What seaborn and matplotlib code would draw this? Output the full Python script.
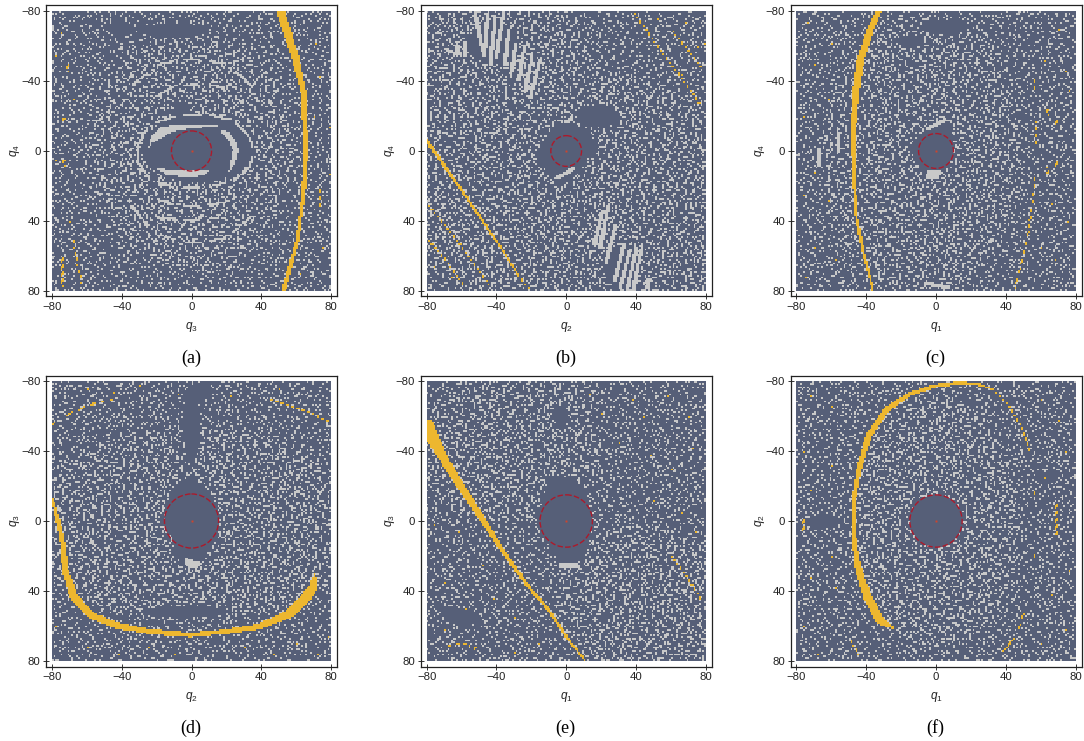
import numpy as np
import matplotlib
matplotlib.use("Agg")
import matplotlib.pyplot as plt
import seaborn as sns
from matplotlib.colors import ListedColormap
from matplotlib.patches import Circle, Rectangle
from matplotlib.path import Path

# Values are estimates, in (q_x, q_y).
# The fine speckle can't be read cell by cell, so one hand typed patch stands in for it:
# '1' are lone cells, '2' the short dashes that only show in the denser zones.
SPECKLE = [
    "....1.......222.....1.........2.....1...",
    "1.........2..........22..1.........2....",
    "...22.....2....1............1.....22...1",
    ".......1..2.........2..222........2.....",
    ".1...............1..2.......1..........2",
    "......222...1........2...........1.....2",
    "..2...........2...........22..1.........",
    "..2..1.........2...1..............222...",
    "........1......22........2..1..........1",
    "1..............2.....1...2...........2..",
    "....22..2..............2.....1....1..2..",
    "........2...1.....222........2........1.",
    "..1.....2...............1....2..1.......",
    "...............2...1.............22.....",
    ".....1.22......2........2.1.........2...",
    "1..............2..2.....2...........2...",
    "......2...1.......2.........1....1..2...",
    "..22..2...........2..1...222............",
    "......2..1..1...............2..........1",
    ".1..............222......1..2...1.......",
    "........2..................1.2......22..",
    "...1....2...1.......1...........2......1",
    "........22.....2.........22.....2..1....",
    "..1............2....2...........2.......",
    "......1...1....2....2.....1.............",
    "..2.................2..1.......222...1..",
    "..2...22..2..1..........2..............1",
    "..2.......2........1....2...1......2....",
    ".....1....2...22........2.........12....",
    "1..............2...........1.......2....",
    "......222......2....1.2.........1.......",
    "..1.............1....2......2.........2.",
    ".........1...2.......2..22..2...1.......",
    ".....2.......2...1.........2............",
    "1....2..1........22...........222....1..",
    ".....2.........1......1..............1..",
    "...........22.......1....2.1....2.......",
    ".1....1.........1........2......2...22..",
    ".........2.............1.2..1...2.......",
    "..1.....2...1...22..............1....1..",
]
# orientation of each repeat of the patch: 0 as typed, 1 flip lr, 2 flip ud, 3 both, 4 transposed
PATCH_ORDER = [[0, 3, 1, 4], [2, 4, 0, 3], [4, 1, 3, 2], [1, 0, 4, 2]]
LAYER_ORDER = [[4, 2, 3, 1], [1, 3, 4, 0], [0, 4, 2, 1], [3, 1, 0, 4]]

# orange bands: (x, y, half width)
BAND_A = [(51, -80, 2.4), (59.5, -54, 2.2), (64.3, -33, 1.5), (65.6, 0, 1.3), (64.3, 24, 1.1), (60.8, 51, 1.0), (52.8, 80, 1.3)]
BAND_B = [(-80, -6, 1.0), (-52, 34, 0.7), (-37, 56, 0.6), (-27, 72, 0.5)]
BAND_C = [(-32.8, -80, 1.5), (-37.5, -70, 2.0), (-43.3, -52, 2.2), (-46, -33, 2.0), (-47.5, -10, 1.5), (-47, 15, 1.0), (-45.6, 38, 0.8), (-41.4, 59, 0.8), (-36, 80, 0.6)]
BAND_D = [(-79.6, -12, 0.9), (-74.3, 9, 1.4), (-72.4, 28, 1.8), (-67.6, 43, 2.4), (-58, 54, 2.0), (-42.8, 60, 1.8), (-23.7, 63.4, 1.5), (-0.8, 65.3, 1.3), (20, 63.4, 1.3), (39, 60.5, 1.7), (56.5, 53, 2.5), (66, 43.4, 3.0), (69.9, 37.7, 2.5), (70.6, 31, 0.8)]
BAND_E = [(-80, -54, 4.5), (-71, -37, 2.6), (-61.5, -21.5, 2.3), (-50, -4.3, 1.8), (-36.8, 16.7, 1.2), (-21.5, 37.7, 1.0), (-10, 51, 0.9), (1.3, 68, 0.8), (11, 80, 0.4)]
BAND_F = [(-25, 61, 0.8), (-32, 57, 2.5), (-39.5, 43, 2.5), (-45, 25.5, 1.8), (-47, 8, 1.2), (-47, -12.7, 1.2), (-44, -30, 1.5), (-38.5, -49, 1.7), (-28, -64.3, 1.6), (-14.6, -73, 1.2), (-1, -77.3, 1.0), (14, -79.2, 0.8), (25.5, -78, 0.6), (33, -75, 0.4)]

# thin dotted orange arcs and short strips
DOTS_A = [[(-71, -50), (-71, -45)], [(-73, -19), (-73, -17)], [(-73, 5), (-73, 9)], [(-74, 60), (-74, 78)], [(-68, 51), (-63, 76)], [(73.5, 21), (73.5, 32)]]
DOTS_B = [[(-27, 72), (-20.5, 80)], [(-79, 31), (-69, 43), (-61.5, 53), (-54, 63), (-44, 77)], [(-79, 51), (-70, 61.5), (-58, 78)], [(39, -79), (47, -68), (59, -51), (72, -34), (77, -26)], [(60, -70), (77.5, -48)]]
DOTS_C = [[(45, 79), (48.5, 66), (53, 47), (56, 23), (57, 13)], [(57.5, -16), (57.5, -4)], [(56.7, -33), (56, -42)], [(69, -18), (69, -14)], [(69, 5), (69, 9)], [(64, -24), (64, -20)], [(64, 9), (64, 13)]]
DOTS_D = [[(-80, -55), (-73, -60), (-64, -64), (-54, -68), (-43, -70)], [(45, -70), (56.5, -66), (68, -62), (79, -57)]]
DOTS_E = [[(60, 20), (68, 30), (78, 46)], [(-68, 72), (-60, 70), (-50, 74)]]
DOTS_F = [[(33, -75), (41, -67), (48.5, -55), (54, -39)], [(35, 80), (46.6, 64), (51.4, 50)], [(-49, 68), (-43, 79)], [(69, -11), (69, 8)], [(56.7, -18), (56.7, -15)], [(56.7, 17), (56.7, 21)], [(-76, -1), (-76, 6)]]

# single orange cells
SPECKS_A = [(-78, 5), (-70, 40), (-64, 72), (71, -62), (73, -43), (79, -14), (79, 13), (-75, -68), (-78, -55), (-68, -30), (75, 55), (62, 70), (70, -20)]
SPECKS_B = [(68, -74), (75, -60), (52, -76), (66, -44), (79, -62), (-76, 66), (-66, 72)]
SPECKS_C = [(-74, -74), (-60, -62), (-70, -50), (-62, -30), (-76, -20), (-70, 12), (-76, 25), (-62, 28), (-70, 55), (-58, 62), (-75, 72), (70, -70), (62, -52), (74, -46), (76, -35), (60, 55), (68, 62), (75, 40), (66, 30)]
SPECKS_D = [(-60, -76), (-45, -74), (-30, -78), (-8, -73), (22, -72), (50, -76), (-78, 60), (-60, 72), (-42, 76), (-25, 72), (-10, 76), (30, 72), (47, 76), (60, 70), (78, 66), (72, 76)]
SPECKS_E = [(13, -73), (20, -62), (38, -70), (44, -60), (58, -72), (70, -60), (30, -45), (48, -38), (60, -30), (72, -42), (50, -12), (66, -5), (74, 6), (-76, 2), (-62, 6), (-48, 25), (-70, 35), (-58, 50), (-70, 62), (-42, 44), (-30, 55), (-52, 72), (-30, 75), (-16, 70)]
SPECKS_F = [(-72, -72), (-60, -66), (-76, -40), (-60, -32), (-72, -18), (-60, 20), (-72, 32), (-58, 38), (-76, 60), (-68, 76), (60, -70), (70, -58), (74, -40), (62, -25), (74, 62), (66, 42), (60, 70), (76, 28)]

# denser speckle zones: (cx, cy, rx, ry)
DENSE_A = [(0, 0, 58, 68)]
DENSE_B = [(-30, 10, 75, 75), (30, 25, 60, 70), (-40, -60, 55, 30), (75, 40, 30, 50)]
DENSE_C = [(-8, 2, 56, 80)]
DENSE_D = [(0, 2, 95, 56)]
DENSE_E = [(-35, -42, 55, 42), (42, 46, 48, 44), (-20, -70, 40, 15)]
DENSE_F = [(0, 0, 48, 72)]

# speckle free areas: ellipses and outlines
QUIET_ELL_A = [(3, -1, 32, 19), (-10, -69, 20, 4), (-5, -25, 5, 3), (-40, -70, 8, 4), (-6, -22, 8, 2)]
QUIET_ELL_B = [(18, -20, 12, 6), (-42, -62, 14, 12), (31, 66, 10, 12)]
QUIET_ELL_C = [(5, -71, 14, 4), (-15, -63, 8, 3)]
QUIET_ELL_D = [(0, -55, 5, 22), (-2, 52, 25, 3), (5, -74, 6, 5)]
QUIET_ELL_E = [(-3, -60, 4, 6), (-60, 55, 10, 5), (22, 55, 3, 2)]
QUIET_ELL_F = [(0, 0, 15, 15), (-65, 0, 8, 4), (62, -25, 6, 3)]
QUIET_POLY_B = [(1.3, -15), (12.8, -12), (17.5, -4), (11, 7), (3.3, 16.7), (-4.4, 21.5), (-12, 11), (-17.7, 3.3), (-14, -6), (-6.3, -13)]
QUIET_POLY_C = [(-0.3, -15), (7.4, -16), (11, -2.4), (8.3, 7), (3.5, 15), (-6, 15), (-12.7, 5.2), (-12.7, -6.2), (-6, -13)]
QUIET_POLY_D = [(0, -25), (7, -21), (14.5, -10), (15.5, 3.3), (12.6, 13), (7, 22.4), (3, 27), (-6.5, 26), (-8.4, 14.8), (-15, 3.3), (-15, -8), (-10, -19.5), (-5.5, -24)]
QUIET_POLY_E = [(-10, -26), (5, -25), (11, -16), (15.6, 0), (13, 13), (8, 22.4), (-2.4, 26), (-7, 18.6), (-16, 3.3), (-15, -8), (-11, -17.6)]

# solid light grey shapes
LIGHT_POLY_A = [
    [(-24.8, -1.8), (-22.9, -9.1), (-18.1, -13.8), (-10.4, -14.8), (3, -15.4), (15.4, -15.4), (14.5, -14.2), (-0.9, -12.9), (-10.4, -11.3), (-16.2, -8.1), (-22, -5.2)],
    [(16.4, -12.5), (21.2, -11), (25, -6.2), (26.9, -0.5), (25, 7.2), (21.2, 12.9), (22, 7.2), (23.7, -0.5), (21.2, -6.2), (17.3, -10)],
    [(-20, 10.4), (-10.4, 10.6), (-2.8, 10.6), (10.6, 11), (6.8, 14.4), (-4.7, 14.8), (-14.3, 13.8)],
]
LIGHT_POLY_C = [[(-5, 11), (3, 11), (4, 13), (0, 15.5), (-6, 16)]]
LIGHT_POLY_D = [[(-4, 21), (3, 23), (6, 24), (4, 27), (-1, 27), (-4, 25)]]
LIGHT_POLY_E = [[(-3.5, 24), (7, 24), (7, 26.5), (-3.5, 26.5)]]
LIGHT_LINES_B = [
    [(-6, 15.5), (0, 13), (4, 10)], [(0.4, -16.7), (3.3, -19.6)],
    [(-62.5, -60.5), (-62.5, -55)], [(-57.7, -61.5), (-57.7, -55)], [(-68, -58), (-64, -56)],
    [(-52, -79), (-48, -58)], [(-45, -77), (-47, -55)], [(-40.6, -77), (-43.4, -50)], [(-36, -79), (-40, -54)],
    [(-33, -69), (-35, -50)], [(-29, -61.5), (-31, -46)], [(-24, -60), (-27, -40.5)], [(-19.6, -54), (-23.4, -35)], [(-15, -52), (-20.6, -31)],
    [(20.4, 35.8), (16.4, 53)], [(24, 32), (19.6, 55)], [(28, 43), (23, 64)], [(32.8, 54), (28, 74)], [(36.6, 56.8), (31, 77.7)],
    [(40.4, 55.8), (34.7, 80)], [(43, 56.8), (38.5, 80)], [(48, 74), (45, 80)],
]
LIGHT_LINES_C = [[(-5, -13), (0, -15), (5, -18)], [(-6, 76), (7, 78)], [(-55.7, -10), (-55.7, 0)], [(-67, -1), (-67, 8)]]
RINGS_A = [
    [(-30, -5), (-24, -15), (-10, -20), (10, -21), (25, -17), (33, -8), (36, 0), (33, 10), (24, 17), (8, 21), (-10, 21), (-24, 16), (-31, 6), (-30, -5)],
    [(-26, -28), (-12, -36), (0, -38), (16, -37), (30, -27)],
    [(-34, -38), (-18, -50), (0, -53), (20, -50), (34, -38)],
    [(-24, 26), (-10, 31), (6, 32), (24, 28)],
    [(-20, 38), (0, 40), (16, 38)],
    [(-36, 30), (-20, 48), (0, 53), (20, 50), (36, 36)],
]

RADII = [11.5, 8.8, 10, 15.5, 15, 15]
NAMES = ["a", "b", "c", "d", "e", "f"]
X_LABELS = ["$q_3$", "$q_2$", "$q_1$", "$q_2$", "$q_1$", "$q_1$"]
Y_LABELS = ["$q_4$", "$q_4$", "$q_4$", "$q_3$", "$q_3$", "$q_2$"]
TICKS = [-80, -40, 0, 40, 80]
TICK_LABELS = ["\u221280", "\u221240", "0", "40", "80"]
FRAME_X = [46, 420.7, 790.5]
FRAME_Y = [5.5, 375.5]

COLORS = ["#565f78", "#c9c9c9", "#edb72f"]
N = 160
centers = np.arange(N) - 79.5
GX, GY = np.meshgrid(centers, centers)


def tile(order, panel, shift):
    patch = np.array([[int(c) if c != "." else 0 for c in row.ljust(40, ".")[:40]] for row in SPECKLE])
    ops = {0: lambda p: p, 1: np.fliplr, 2: np.flipud, 3: lambda p: p[::-1, ::-1], 4: np.transpose}
    rows = [np.hstack([ops[k](patch) for k in row]) for row in order]
    return np.roll(np.vstack(rows), (panel * 7 + shift, panel * 13 + 2 * shift), axis=(0, 1))


def ellipse_mask(items):
    mask = np.zeros((N, N), dtype=bool)
    for cx, cy, rx, ry in items:
        mask |= ((GX - cx) / rx) ** 2 + ((GY - cy) / ry) ** 2 <= 1
    return mask


def poly_mask(vertices):
    pts = np.column_stack([GX.ravel(), GY.ravel()])
    return Path(vertices).contains_points(pts).reshape(N, N)


def line_mask(points, default_hw=0.6):
    # distance from every cell to a polyline, width can vary along it
    mask = np.zeros((N, N), dtype=bool)
    for p0, p1 in zip(points[:-1], points[1:]):
        w0 = p0[2] if len(p0) > 2 else default_hw
        w1 = p1[2] if len(p1) > 2 else default_hw
        dx, dy = p1[0] - p0[0], p1[1] - p0[1]
        t = np.clip(((GX - p0[0]) * dx + (GY - p0[1]) * dy) / (dx * dx + dy * dy), 0, 1)
        dist = np.hypot(GX - p0[0] - t * dx, GY - p0[1] - t * dy)
        mask |= dist <= w0 + t * (w1 - w0)
    return mask


def build_grid(panel, dense, quiet_ell, quiet_poly, light_poly, light_lines, rings, band, dots, specks):
    first = tile(PATCH_ORDER, panel, 0)
    second = tile(LAYER_ORDER, panel, 11)
    third = tile(LAYER_ORDER[::-1], panel, 23)
    grid = ((first == 1) | (second == 1) | (third == 1)).astype(int)
    grid[(first == 2) & ellipse_mask(dense)] = 1
    grid[ellipse_mask(quiet_ell)] = 0
    if quiet_poly:
        grid[poly_mask(quiet_poly)] = 0
    for ring in rings:
        grid[line_mask(ring) & ((np.arange(N)[None, :] // 5) % 3 != 2)] = 1
    for poly in light_poly:
        grid[poly_mask(poly)] = 1
    for line in light_lines:
        grid[line_mask(line, 1.1)] = 1
    for line in dots:
        grid[line_mask(line, 0.5) & (((GX + GY).astype(int)) % 4 < 2)] = 2
    for x, y in specks:
        grid[int(y + 80), int(x + 80)] = 2
    grid[line_mask(band)] = 2
    return grid


sns.set_theme(style="white")
plt.rcParams["font.family"] = ["Liberation Sans"]
plt.rcParams["mathtext.fontset"] = "custom"
plt.rcParams["mathtext.it"] = "Liberation Sans:italic"
plt.rcParams["mathtext.rm"] = "Liberation Sans"

W, H = 1084, 741
SIZE = 291
fig = plt.figure(figsize=(W / 100, H / 100), dpi=100, facecolor="white")
cmap = ListedColormap(COLORS)

panels = [
    (DENSE_A, QUIET_ELL_A, None, LIGHT_POLY_A, [], RINGS_A, BAND_A, DOTS_A, SPECKS_A),
    (DENSE_B, QUIET_ELL_B, QUIET_POLY_B, [], LIGHT_LINES_B, [], BAND_B, DOTS_B, SPECKS_B),
    (DENSE_C, QUIET_ELL_C, QUIET_POLY_C, LIGHT_POLY_C, LIGHT_LINES_C, [], BAND_C, DOTS_C, SPECKS_C),
    (DENSE_D, QUIET_ELL_D, QUIET_POLY_D, LIGHT_POLY_D, [], [], BAND_D, DOTS_D, SPECKS_D),
    (DENSE_E, QUIET_ELL_E, QUIET_POLY_E, LIGHT_POLY_E, [], [], BAND_E, DOTS_E, SPECKS_E),
    (DENSE_F, QUIET_ELL_F, None, [], [], [], BAND_F, DOTS_F, SPECKS_F),
]

for i, spec in enumerate(panels):
    left = FRAME_X[i % 3]
    top = FRAME_Y[i // 3]
    ax = fig.add_axes([left / W, 1 - (top + SIZE) / H, SIZE / W, SIZE / H])
    grid = build_grid(i, *spec)
    # dark plate under the mesh so the antialiased cell seams don't show white
    ax.add_patch(Rectangle((0, 0), N, N, fc=COLORS[0], ec="none", zorder=0))
    sns.heatmap(grid, cmap=cmap, vmin=0, vmax=2, cbar=False, ax=ax, xticklabels=False, yticklabels=False,
                antialiased=True)

    # grid edges sit at 0..160, q = 0 at 80; small margin inside the frame
    ax.set_xlim(-3.4, N + 3.4)
    ax.set_ylim(N + 3.4, -3.4)
    ax.set_xticks([t + 80 for t in TICKS], TICK_LABELS)
    ax.set_yticks([t + 80 for t in TICKS], TICK_LABELS, rotation=0)
    ax.tick_params(direction="inout", length=5, width=0.7, color="#333333", labelsize=8.2,
                   labelcolor="#222222", pad=1.5, bottom=True, left=True)
    for side in ax.spines.values():
        side.set_visible(True)
        side.set_linewidth(0.9)
        side.set_color("#222222")
    ax.set_xlabel(X_LABELS[i], fontsize=8.5, labelpad=6, color="#222222")
    ax.set_ylabel(Y_LABELS[i], fontsize=8.5, labelpad=-1, color="#222222")

    ax.add_patch(Circle((80, 80), RADII[i], fill=False, ec="#ac1a2b", lw=1.0, ls=(0, (4, 1.6))))
    ax.plot([80], [80], marker="s", ms=1.4, color="#d2442a", mew=0)

    fig.text((left + 145) / W, 1 - (top + 352.5) / H, f"({NAMES[i]})", family="Liberation Serif",
             fontsize=13, ha="center", va="center", color="black")

fig.savefig("out.png", dpi=100)
